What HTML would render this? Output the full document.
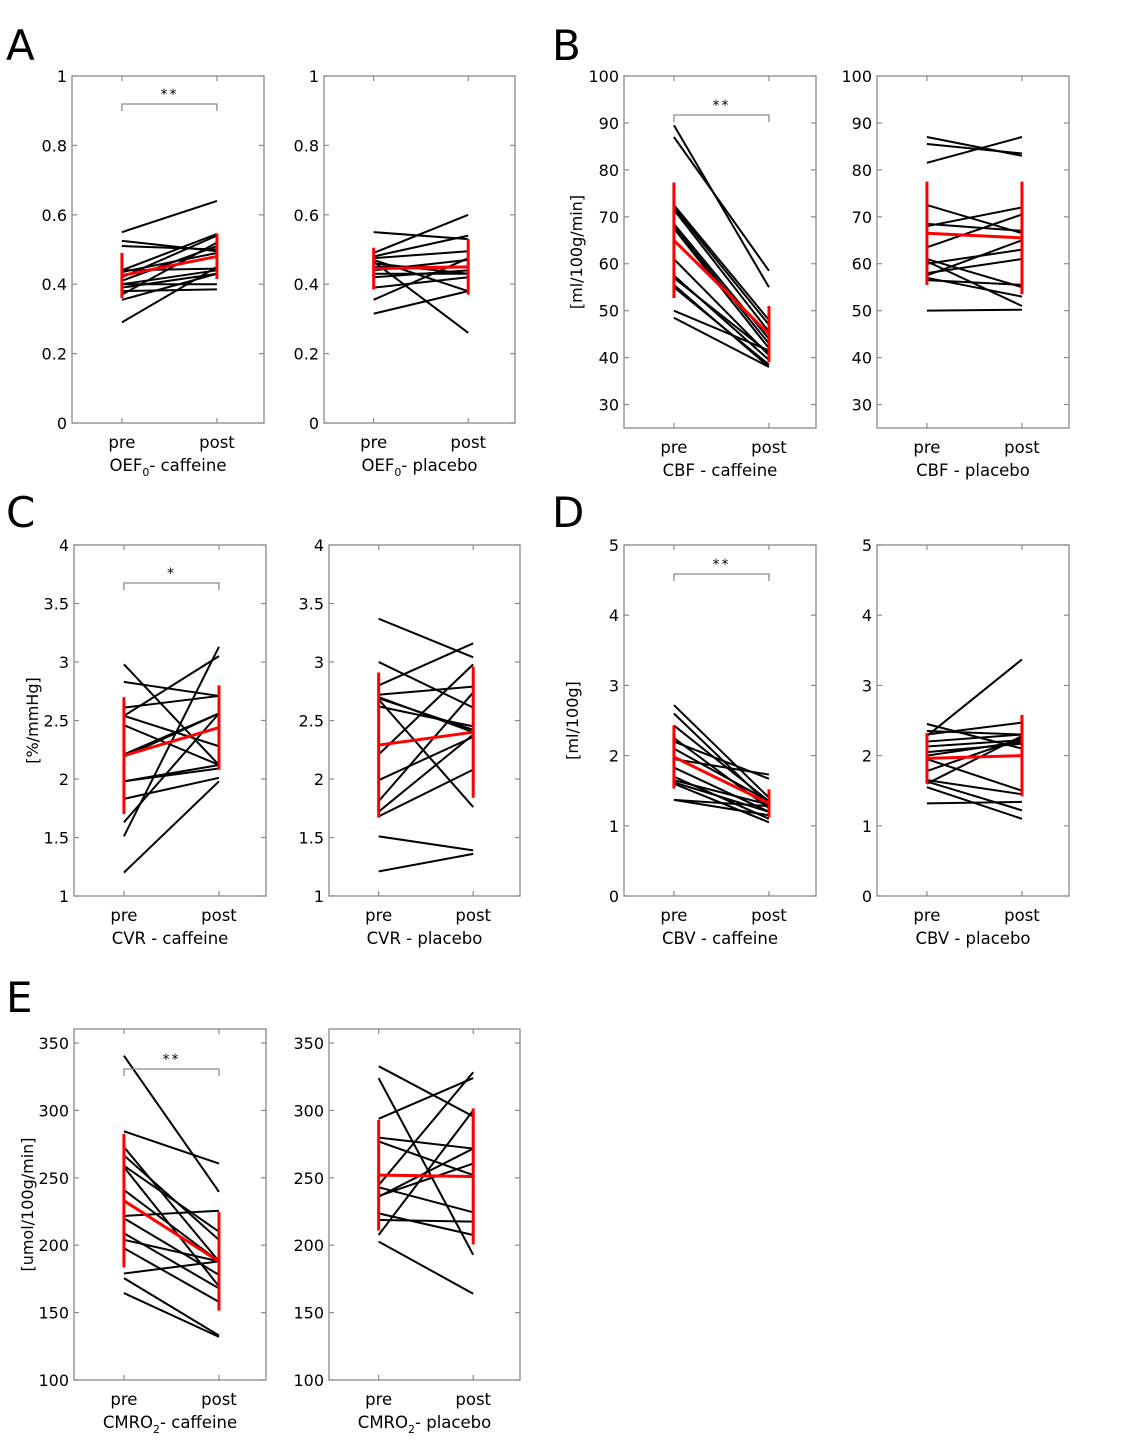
<!DOCTYPE html>
<html><head><meta charset="utf-8">
<style>
html,body{margin:0;padding:0;background:#fff;}
svg{display:block;font-family:"DejaVu Sans","Liberation Sans",sans-serif;}
</style></head>
<body>
<svg id="fig" width="1125" height="1442" viewBox="0 0 1125 1442" xmlns="http://www.w3.org/2000/svg">
<text x="6" y="60" font-size="42">A</text>
<text x="552" y="60" font-size="42">B</text>
<text x="6" y="527" font-size="42">C</text>
<text x="552" y="527" font-size="42">D</text>
<text x="6" y="1012" font-size="42">E</text>
</svg>
<script>
// ---- data ----
const oefCafPre  = [0.55,0.525,0.51,0.44,0.44,0.42,0.41,0.40,0.40,0.39,0.37,0.355,0.29,0.38,0.435];
const oefCafPost = [0.64,0.495,0.50,0.545,0.445,0.54,0.51,0.44,0.40,0.43,0.52,0.43,0.45,0.385,0.49];
const oefCafMean = [0.425,0.48];
const oefCafSd   = [0.065,0.065];
const oefPlaPre  = [0.55,0.49,0.48,0.475,0.47,0.465,0.46,0.44,0.43,0.42,0.39,0.355,0.315,0.45];
const oefPlaPost = [0.53,0.60,0.54,0.495,0.38,0.26,0.43,0.47,0.43,0.44,0.42,0.475,0.38,0.45];
const oefPlaMean = [0.445,0.45];
const oefPlaSd   = [0.06,0.08];
const cbfCafPre  = [89.5,87,72.5,72,71.5,68.5,68,67.5,61,57.5,57,55.5,55,50,48.5];
const cbfCafPost = [55,58.5,48,47,45.5,44,43,42,40.5,39.5,41,38,38.5,41.5,38];
const cbfCafMean = [65,45];
const cbfCafSd   = [12.3,6];
const cbfPlaPre  = [87,85.5,81.5,72.5,68.5,68,63.5,61,60.5,60,58,57.5,57,56.5,50];
const cbfPlaPost = [83,83.5,87,66.5,67,72,70.5,55,51,63,61,65,53,55.5,50.2];
const cbfPlaMean = [66.5,65.5];
const cbfPlaSd   = [11,12];
const cvrCafPre  = [2.98,2.83,2.61,2.54,2.54,2.46,2.21,2.19,1.98,1.51,1.83,1.63,1.20,1.98];
const cvrCafPost = [2.12,2.71,2.71,3.05,2.28,2.12,2.56,2.56,2.12,3.13,2.01,2.56,1.98,2.09];
const cvrCafMean = [2.2,2.44];
const cvrCafSd   = [0.5,0.36];
const cvrPlaPre  = [3.37,3.0,2.80,2.72,2.69,2.68,2.62,2.21,1.99,1.81,1.72,1.68,1.51,1.21,2.70];
const cvrPlaPost = [3.04,2.61,3.16,2.79,2.42,1.76,2.45,2.98,2.36,2.74,2.38,2.08,1.39,1.36,2.40];
const cvrPlaMean = [2.29,2.40];
const cvrPlaSd   = [0.62,0.56];
const cbvCafPre  = [2.72,2.6,2.43,2.25,2.2,2.1,1.95,1.83,1.7,1.65,1.6,1.37,1.37,1.62];
const cbvCafPost = [1.4,1.3,1.35,1.25,1.67,1.35,1.73,1.2,1.1,1.3,1.05,1.28,1.15,1.2];
const cbvCafMean = [1.98,1.32];
const cbvCafSd   = [0.45,0.2];
const cbvPlaPre  = [2.28,2.45,2.35,2.3,2.2,2.13,2.05,2.0,1.95,1.78,1.65,1.6,1.55,1.32,1.63];
const cbvPlaPost = [3.37,2.1,2.3,2.47,2.3,2.22,2.17,2.2,1.5,2.25,1.45,2.28,1.1,1.34,1.22];
const cbvPlaMean = [1.96,2.0];
const cbvPlaSd   = [0.36,0.58];
const cmrCafPre  = [340.6,284.5,272.9,266.7,259,258,241,221.7,220,208.9,204,197.8,179,175.6,164.5];
const cmrCafPost = [239.6,260.6,188,204,210,169.5,188,225.6,178,168,188,158,188,133,132];
const cmrCafMean = [233,188];
const cmrCafSd   = [49.5,36.5];
const cmrPlaPre  = [332.8,323.9,293.8,279.8,277,244.6,236,236.5,243,223.6,218.7,207.6,202.7];
const cmrPlaPost = [295.6,192.9,324,271.7,252,328.3,271.7,260.6,224.4,207.6,217.5,300,164];
const cmrPlaMean = [252,251];
const cmrPlaSd   = [41,50.5];
const oefTicks = ["0","0.2","0.4","0.6","0.8","1"];
const cbfTicks = ["30","40","50","60","70","80","90","100"];
const cvrTicks = ["1","1.5","2","2.5","3","3.5","4"];
const cbvTicks = ["0","1","2","3","4","5"];
const cmrTicks = ["100","150","200","250","300","350"];
const xCats = ["pre","post"];

const NS="http://www.w3.org/2000/svg";
const svg=document.getElementById('fig');
function mk(tag,attrs,parent){const e=document.createElementNS(NS,tag);for(const k in attrs)e.setAttribute(k,attrs[k]);(parent||svg).appendChild(e);return e;}

function panel(o){
  const g=mk('g',{});
  
  
  const x0=o.x,x1=o.x+o.w,y0=o.top,y1=o.bottom;
  const ys=v=>y1-(v-o.min)/(o.max-o.min)*(y1-y0);
  const xs=i=>x0+(i===0?0.26:0.755)*o.w;
  const box=mk('rect',{x:x0,y:y0,width:o.w,height:y1-y0,fill:'none',stroke:'#8a8a8a','stroke-width':1.3},g);
  
  
  o.ticks.forEach(t=>{
    const y=ys(parseFloat(t));
    mk('line',{x1:x0,x2:x0+5,y1:y,y2:y,stroke:'#8a8a8a','stroke-width':1.2},g);
    mk('line',{x1:x1-5,x2:x1,y1:y,y2:y,stroke:'#8a8a8a','stroke-width':1.2},g);
    const tl=mk('text',{x:x0-5,y:y+6,'font-size':16,'text-anchor':'end'},g);
    tl.textContent=t;
    
    
  });
  xCats.forEach((c,i)=>{
    const x=xs(i);
    mk('line',{x1:x,x2:x,y1:y1,y2:y1-5,stroke:'#8a8a8a','stroke-width':1.2},g);
    mk('line',{x1:x,x2:x,y1:y0,y2:y0+5,stroke:'#8a8a8a','stroke-width':1.2},g);
    const tl=mk('text',{x:x,y:y1+25,'font-size':16.5,'text-anchor':'middle'},g);
    tl.textContent=c;
    
    
  });
  const title=mk('text',{x:(x0+x1)/2,y:y1+48,'font-size':16.5,'text-anchor':'middle'},g);
  title.innerHTML=o.title;
  
  
  if(o.ylab){
    const cx=o.ylabX,cy=(y0+y1)/2;
    const yl=mk('text',{x:cx,y:cy,'font-size':16,'text-anchor':'middle',transform:`rotate(-90 ${cx} ${cy})`},g);
    yl.textContent=o.ylab;
    
    
  }
  o.pre.forEach((v,i)=>{
    const l=mk('line',{x1:xs(0),y1:ys(v),x2:xs(1),y2:ys(o.post[i]),stroke:'#000','stroke-width':2},g);
    
    
  });
  [0,1].forEach(i=>{
    const e=mk('line',{x1:xs(i),x2:xs(i),y1:ys(o.mean[i]-o.sd[i]),y2:ys(o.mean[i]+o.sd[i]),stroke:'#ff0000','stroke-width':3},g);
    
    
  });
  const m=mk('line',{x1:xs(0),y1:ys(o.mean[0]),x2:xs(1),y2:ys(o.mean[1]),stroke:'#ff0000','stroke-width':3},g);
  
  
  if(o.sig){
    const by=o.sigY;
    const br=mk('path',{d:`M${xs(0)} ${by+7}V${by}H${xs(1)}V${by+7}`,fill:'none',stroke:'#8a8a8a','stroke-width':1.3},g);
    
    
    const st=mk('text',{x:(xs(0)+xs(1))/2,y:by-5,'font-size':14,'text-anchor':'middle','letter-spacing':2},g);
    st.textContent=o.sig;
    
    
  }
}
const sub=(a,b,c)=>`${a}<tspan font-size="11" dy="5">${b}</tspan><tspan dy="-5">${c}</tspan>`;
panel({name:'oef-caffeine-chart',x:72,w:192,top:76,bottom:423,min:0,max:1,ticks:oefTicks,pre:oefCafPre,post:oefCafPost,mean:oefCafMean,sd:oefCafSd,title:sub('OEF','0','- caffeine'),sig:'**',sigY:104});
panel({name:'oef-placebo-chart',x:324,w:191,top:76,bottom:423,min:0,max:1,ticks:oefTicks,pre:oefPlaPre,post:oefPlaPost,mean:oefPlaMean,sd:oefPlaSd,title:sub('OEF','0','- placebo')});
panel({name:'cbf-caffeine-chart',x:624,w:192,top:76,bottom:428,min:25,max:100,ticks:cbfTicks,pre:cbfCafPre,post:cbfCafPost,mean:cbfCafMean,sd:cbfCafSd,title:'CBF - caffeine',sig:'**',sigY:115,ylab:'[ml/100g/min]',ylabX:582});
panel({name:'cbf-placebo-chart',x:877,w:192,top:76,bottom:428,min:25,max:100,ticks:cbfTicks,pre:cbfPlaPre,post:cbfPlaPost,mean:cbfPlaMean,sd:cbfPlaSd,title:'CBF - placebo'});
panel({name:'cvr-caffeine-chart',x:74,w:192,top:545,bottom:896,min:1,max:4,ticks:cvrTicks,pre:cvrCafPre,post:cvrCafPost,mean:cvrCafMean,sd:cvrCafSd,title:'CVR - caffeine',sig:'*',sigY:583,ylab:'[%/mmHg]',ylabX:38});
panel({name:'cvr-placebo-chart',x:329,w:191,top:545,bottom:896,min:1,max:4,ticks:cvrTicks,pre:cvrPlaPre,post:cvrPlaPost,mean:cvrPlaMean,sd:cvrPlaSd,title:'CVR - placebo'});
panel({name:'cbv-caffeine-chart',x:624,w:192,top:545,bottom:896,min:0,max:5,ticks:cbvTicks,pre:cbvCafPre,post:cbvCafPost,mean:cbvCafMean,sd:cbvCafSd,title:'CBV - caffeine',sig:'**',sigY:574,ylab:'[ml/100g]',ylabX:578});
panel({name:'cbv-placebo-chart',x:877,w:192,top:545,bottom:896,min:0,max:5,ticks:cbvTicks,pre:cbvPlaPre,post:cbvPlaPost,mean:cbvPlaMean,sd:cbvPlaSd,title:'CBV - placebo'});
panel({name:'cmro2-caffeine-chart',x:74,w:192,top:1029,bottom:1380,min:100,max:360.4,ticks:cmrTicks,pre:cmrCafPre,post:cmrCafPost,mean:cmrCafMean,sd:cmrCafSd,title:sub('CMRO','2','- caffeine'),sig:'**',sigY:1069,ylab:'[umol/100g/min]',ylabX:33});
panel({name:'cmro2-placebo-chart',x:329,w:191,top:1029,bottom:1380,min:100,max:360.4,ticks:cmrTicks,pre:cmrPlaPre,post:cmrPlaPost,mean:cmrPlaMean,sd:cmrPlaSd,title:sub('CMRO','2','- placebo')});
</script>
</body></html>
